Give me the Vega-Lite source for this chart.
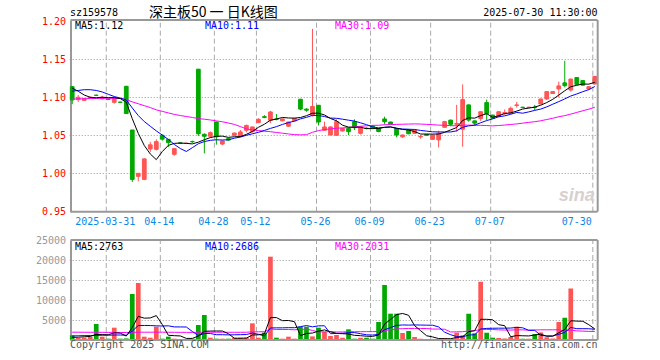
{
"$schema": "https://vega.github.io/schema/vega-lite/v6.json",
"width": 527, "height": 320,
"autosize": {"type": "none"},
"padding": {"left": 70.5, "top": 20, "right": 62.5, "bottom": 20},
"background": "white",
"config": {"view": {"stroke": null}},
"datasets": {
"k": [
{"d":"2025-03-21","o":1.114,"c":1.0965,"h":1.115,"l":1.091,"v":1170,"a5":1.112,"a10":1.108,"a30":1.0975,"b5":650,"b10":1000,"b30":1950},
{"d":"2025-03-24","o":1.097,"c":1.100,"h":1.103,"l":1.094,"v":500,"a5":1.108,"a10":1.109,"a30":1.098,"b5":700,"b10":1050,"b30":1950},
{"d":"2025-03-25","o":1.096,"c":1.098,"h":1.099,"l":1.095,"v":580,"a5":1.103,"a10":1.110,"a30":1.098,"b5":800,"b10":1100,"b30":1940},
{"d":"2025-03-26","o":1.0995,"c":1.100,"h":1.101,"l":1.099,"v":800,"a5":1.100,"a10":1.110,"a30":1.0985,"b5":900,"b10":1100,"b30":1930},
{"d":"2025-03-27","o":1.1028,"c":1.1025,"h":1.1035,"l":1.102,"v":4000,"a5":1.0994,"a10":1.109,"a30":1.0985,"b5":1410,"b10":1150,"b30":1930},
{"d":"2025-03-28","o":1.098,"c":1.100,"h":1.102,"l":1.097,"v":830,"a5":1.1001,"a10":1.107,"a30":1.0987,"b5":1342,"b10":1200,"b30":1920},
{"d":"2025-03-31","o":1.0975,"c":1.097,"h":1.098,"l":1.0965,"v":330,"a5":1.0995,"a10":1.104,"a30":1.0987,"b5":1308,"b10":1200,"b30":1900},
{"d":"2025-04-01","o":1.0934,"c":1.0987,"h":1.099,"l":1.0917,"v":3080,"a5":1.0996,"a10":1.101,"a30":1.0987,"b5":1808,"b10":1250,"b30":1900},
{"d":"2025-04-02","o":1.0937,"c":1.0934,"h":1.094,"l":1.093,"v":330,"a5":1.0983,"a10":1.099,"a30":1.0985,"b5":1714,"b10":1250,"b30":1880},
{"d":"2025-04-03","o":1.1145,"c":1.0786,"h":1.115,"l":1.078,"v":400,"a5":1.0935,"a10":1.0965,"a30":1.097,"b5":994,"b10":1202,"b30":1870},
{"d":"2025-04-07","o":1.057,"c":0.992,"h":1.057,"l":0.9886,"v":11500,"a5":1.0719,"a10":1.0860,"a30":1.094,"b5":3128,"b10":2235,"b30":1900},
{"d":"2025-04-08","o":0.996,"c":1.000,"h":1.0005,"l":0.9895,"v":14250,"a5":1.0525,"a10":1.0760,"a30":1.0915,"b5":5912,"b10":3610,"b30":1950},
{"d":"2025-04-09","o":0.992,"c":1.019,"h":1.0195,"l":0.991,"v":830,"a5":1.0366,"a10":1.0681,"a30":1.089,"b5":5462,"b10":3635,"b30":1950},
{"d":"2025-04-10","o":1.032,"c":1.0375,"h":1.0412,"l":1.028,"v":580,"a5":1.0254,"a10":1.0619,"a30":1.0865,"b5":5512,"b10":3613,"b30":1950},
{"d":"2025-04-11","o":1.0316,"c":1.0417,"h":1.0447,"l":1.030,"v":3330,"a5":1.0180,"a10":1.0558,"a30":1.0835,"b5":6098,"b10":3546,"b30":1960},
{"d":"2025-04-14","o":1.050,"c":1.045,"h":1.051,"l":1.043,"v":330,"a5":1.0286,"a10":1.0503,"a30":1.0815,"b5":3864,"b10":3496,"b30":1950},
{"d":"2025-04-15","o":1.0447,"c":1.0404,"h":1.045,"l":1.0346,"v":830,"a5":1.0367,"a10":1.0446,"a30":1.0795,"b5":1180,"b10":3546,"b30":1940},
{"d":"2025-04-16","o":1.025,"c":1.0325,"h":1.033,"l":1.023,"v":330,"a5":1.0394,"a10":1.0380,"a30":1.0775,"b5":1080,"b10":3271,"b30":1930},
{"d":"2025-04-18","o":1.040,"c":1.0395,"h":1.0405,"l":1.039,"v":250,"a5":1.0398,"a10":1.0326,"a30":1.076,"b5":1014,"b10":3263,"b30":1920},
{"d":"2025-04-21","o":1.0395,"c":1.0395,"h":1.040,"l":1.039,"v":250,"a5":1.0394,"a10":1.0287,"a30":1.0748,"b5":398,"b10":3248,"b30":1910},
{"d":"2025-04-22","o":1.0418,"c":1.0415,"h":1.043,"l":1.040,"v":330,"a5":1.0387,"a10":1.0337,"a30":1.0735,"b5":398,"b10":2131,"b30":1900},
{"d":"2025-04-23","o":1.137,"c":1.052,"h":1.137,"l":1.049,"v":3750,"a5":1.0410,"a10":1.0389,"a30":1.072,"b5":982,"b10":1081,"b30":1920},
{"d":"2025-04-24","o":1.0513,"c":1.0487,"h":1.0526,"l":1.0263,"v":6250,"a5":1.0442,"a10":1.0418,"a30":1.0712,"b5":2166,"b10":1623,"b30":1950},
{"d":"2025-04-25","o":1.0487,"c":1.0535,"h":1.055,"l":1.047,"v":580,"a5":1.0470,"a10":1.0434,"a30":1.0702,"b5":2232,"b10":1623,"b30":1950},
{"d":"2025-04-28","o":1.0675,"c":1.048,"h":1.068,"l":1.0377,"v":330,"a5":1.0487,"a10":1.0441,"a30":1.069,"b5":2248,"b10":1323,"b30":1940},
{"d":"2025-04-29","o":1.0385,"c":1.0425,"h":1.043,"l":1.037,"v":330,"a5":1.0489,"a10":1.0438,"a30":1.0678,"b5":2248,"b10":1323,"b30":1940},
{"d":"2025-04-30","o":1.0456,"c":1.0437,"h":1.046,"l":1.043,"v":330,"a5":1.0473,"a10":1.0441,"a30":1.0662,"b5":1564,"b10":1273,"b30":1930},
{"d":"2025-05-06","o":1.050,"c":1.053,"h":1.0535,"l":1.0495,"v":580,"a5":1.0481,"a10":1.0462,"a30":1.0643,"b5":430,"b10":1298,"b30":1930},
{"d":"2025-05-07","o":1.0487,"c":1.0544,"h":1.057,"l":1.048,"v":580,"a5":1.0483,"a10":1.0477,"a30":1.0615,"b5":430,"b10":1331,"b30":1930},
{"d":"2025-05-08","o":1.0566,"c":1.063,"h":1.064,"l":1.054,"v":580,"a5":1.0513,"a10":1.0500,"a30":1.0584,"b5":480,"b10":1364,"b30":1938},
{"d":"2025-05-09","o":1.055,"c":1.061,"h":1.0615,"l":1.0535,"v":4170,"a5":1.0550,"a10":1.0520,"a30":1.0572,"b5":1248,"b10":1748,"b30":2038},
{"d":"2025-05-12","o":1.0667,"c":1.071,"h":1.0725,"l":1.066,"v":580,"a5":1.0605,"a10":1.0539,"a30":1.0563,"b5":1298,"b10":1431,"b30":2041},
{"d":"2025-05-13","o":1.0745,"c":1.0735,"h":1.0765,"l":1.0725,"v":1830,"a5":1.0646,"a10":1.0564,"a30":1.0554,"b5":1548,"b10":989,"b30":2082},
{"d":"2025-05-14","o":1.0697,"c":1.0807,"h":1.082,"l":1.066,"v":20830,"a5":1.0698,"a10":1.0591,"a30":1.0548,"b5":5598,"b10":3014,"b30":2750},
{"d":"2025-05-15","o":1.0715,"c":1.071,"h":1.078,"l":1.0697,"v":580,"a5":1.0714,"a10":1.0614,"a30":1.0537,"b5":5598,"b10":3039,"b30":2636},
{"d":"2025-05-16","o":1.069,"c":1.0715,"h":1.072,"l":1.0685,"v":330,"a5":1.0735,"a10":1.0643,"a30":1.0528,"b5":4830,"b10":3039,"b30":2619},
{"d":"2025-05-19","o":1.062,"c":1.0675,"h":1.068,"l":1.061,"v":830,"a5":1.0728,"a10":1.0667,"a30":1.0518,"b5":4880,"b10":3089,"b30":2636},
{"d":"2025-05-20","o":1.069,"c":1.0723,"h":1.0725,"l":1.0685,"v":330,"a5":1.0726,"a10":1.0686,"a30":1.0509,"b5":4580,"b10":3064,"b30":2544},
{"d":"2025-05-21","o":1.0975,"c":1.0845,"h":1.0978,"l":1.083,"v":3330,"a5":1.0734,"a10":1.0716,"a30":1.0506,"b5":1080,"b10":3339,"b30":2644},
{"d":"2025-05-22","o":1.0845,"c":1.083,"h":1.0855,"l":1.081,"v":3330,"a5":1.0758,"a10":1.0736,"a30":1.0508,"b5":1630,"b10":3614,"b30":2742},
{"d":"2025-05-23","o":1.0765,"c":1.088,"h":1.190,"l":1.0746,"v":900,"a5":1.0791,"a10":1.0763,"a30":1.0540,"b5":1744,"b10":3287,"b30":2389},
{"d":"2025-05-26","o":1.0895,"c":1.0675,"h":1.0895,"l":1.063,"v":3080,"a5":1.0791,"a10":1.0760,"a30":1.0562,"b5":2194,"b10":3537,"b30":2016},
{"d":"2025-05-27","o":1.0566,"c":1.061,"h":1.068,"l":1.056,"v":2000,"a5":1.0768,"a10":1.0747,"a30":1.0576,"b5":2528,"b10":3554,"b30":2055},
{"d":"2025-05-28","o":1.0504,"c":1.061,"h":1.0615,"l":1.050,"v":1000,"a5":1.0721,"a10":1.0727,"a30":1.0584,"b5":2062,"b10":1571,"b30":2069},
{"d":"2025-05-29","o":1.050,"c":1.068,"h":1.071,"l":1.0495,"v":1250,"a5":1.0691,"a10":1.0724,"a30":1.0593,"b5":1646,"b10":1638,"b30":2000},
{"d":"2025-05-30","o":1.0557,"c":1.059,"h":1.0595,"l":1.055,"v":580,"a5":1.0633,"a10":1.0712,"a30":1.0598,"b5":1582,"b10":1663,"b30":2008},
{"d":"2025-06-03","o":1.059,"c":1.0548,"h":1.060,"l":1.0504,"v":2670,"a5":1.0608,"a10":1.0699,"a30":1.0602,"b5":1500,"b10":1847,"b30":2070},
{"d":"2025-06-04","o":1.068,"c":1.060,"h":1.071,"l":1.057,"v":330,"a5":1.0606,"a10":1.0687,"a30":1.0612,"b5":1166,"b10":1847,"b30":2070},
{"d":"2025-06-05","o":1.0526,"c":1.0614,"h":1.062,"l":1.051,"v":580,"a5":1.0606,"a10":1.0664,"a30":1.0619,"b5":1082,"b10":1572,"b30":2081},
{"d":"2025-06-06","o":1.0593,"c":1.059,"h":1.0605,"l":1.058,"v":580,"a5":1.0588,"a10":1.0640,"a30":1.0625,"b5":948,"b10":1297,"b30":2092},
{"d":"2025-06-09","o":1.0623,"c":1.059,"h":1.063,"l":1.0585,"v":330,"a5":1.0588,"a10":1.0611,"a30":1.0631,"b5":898,"b10":1240,"b30":2092},
{"d":"2025-06-10","o":1.059,"c":1.055,"h":1.0595,"l":1.054,"v":4500,"a5":1.0589,"a10":1.0598,"a30":1.0632,"b5":1264,"b10":1382,"b30":2117},
{"d":"2025-06-11","o":1.0715,"c":1.068,"h":1.0745,"l":1.0645,"v":13750,"a5":1.0605,"a10":1.0605,"a30":1.0639,"b5":3948,"b10":2557,"b30":2367},
{"d":"2025-06-12","o":1.0675,"c":1.0645,"h":1.068,"l":1.064,"v":6580,"a5":1.0611,"a10":1.0609,"a30":1.0642,"b5":5148,"b10":3115,"b30":2567},
{"d":"2025-06-13","o":1.059,"c":1.0504,"h":1.0595,"l":1.0474,"v":6580,"a5":1.0594,"a10":1.0591,"a30":1.0643,"b5":6348,"b10":3648,"b30":2775},
{"d":"2025-06-16","o":1.048,"c":1.0504,"h":1.051,"l":1.0465,"v":1750,"a5":1.0577,"a10":1.0583,"a30":1.0646,"b5":6632,"b10":3765,"b30":2822},
{"d":"2025-06-17","o":1.057,"c":1.052,"h":1.0575,"l":1.0515,"v":2250,"a5":1.0571,"a10":1.0580,"a30":1.0648,"b5":6182,"b10":3723,"b30":2886},
{"d":"2025-06-18","o":1.0526,"c":1.057,"h":1.0575,"l":1.052,"v":750,"a5":1.0549,"a10":1.0577,"a30":1.0650,"b5":3582,"b10":3765,"b30":2892},
{"d":"2025-06-19","o":1.0478,"c":1.0485,"h":1.0505,"l":1.0455,"v":330,"a5":1.0517,"a10":1.0564,"a30":1.0648,"b5":2332,"b10":3740,"b30":2884},
{"d":"2025-06-20","o":1.0513,"c":1.050,"h":1.0515,"l":1.0495,"v":250,"a5":1.0516,"a10":1.0555,"a30":1.0644,"b5":1066,"b10":3707,"b30":2873},
{"d":"2025-06-23","o":1.0447,"c":1.0504,"h":1.051,"l":1.044,"v":250,"a5":1.0516,"a10":1.0546,"a30":1.0640,"b5":766,"b10":3699,"b30":2742},
{"d":"2025-06-24","o":1.044,"c":1.0526,"h":1.056,"l":1.034,"v":250,"a5":1.0517,"a10":1.0544,"a30":1.0634,"b5":366,"b10":3274,"b30":2731},
{"d":"2025-06-25","o":1.0605,"c":1.068,"h":1.069,"l":1.060,"v":500,"a5":1.0539,"a10":1.0544,"a30":1.0632,"b5":316,"b10":1949,"b30":2687},
{"d":"2025-06-26","o":1.070,"c":1.0645,"h":1.0705,"l":1.062,"v":330,"a5":1.0571,"a10":1.0544,"a30":1.0627,"b5":316,"b10":1324,"b30":2003},
{"d":"2025-06-27","o":1.0645,"c":1.0655,"h":1.090,"l":1.0548,"v":1830,"a5":1.0602,"a10":1.0559,"a30":1.0625,"b5":632,"b10":849,"b30":2045},
{"d":"2025-06-30","o":1.058,"c":1.097,"h":1.117,"l":1.035,"v":1200,"a5":1.0695,"a10":1.0606,"a30":1.0633,"b5":822,"b10":794,"b30":2074},
{"d":"2025-07-01","o":1.090,"c":1.070,"h":1.0905,"l":1.068,"v":6580,"a5":1.0730,"a10":1.0624,"a30":1.0634,"b5":2088,"b10":1227,"b30":2266},
{"d":"2025-07-02","o":1.069,"c":1.066,"h":1.0695,"l":1.0623,"v":1670,"a5":1.0726,"a10":1.0633,"a30":1.0632,"b5":2322,"b10":1319,"b30":2310},
{"d":"2025-07-03","o":1.072,"c":1.081,"h":1.0815,"l":1.069,"v":14580,"a5":1.0759,"a10":1.0665,"a30":1.0631,"b5":5172,"b10":2744,"b30":2685},
{"d":"2025-07-04","o":1.093,"c":1.0785,"h":1.097,"l":1.070,"v":1830,"a5":1.0785,"a10":1.0694,"a30":1.0629,"b5":5172,"b10":2902,"b30":2635},
{"d":"2025-07-07","o":1.0766,"c":1.0724,"h":1.077,"l":1.072,"v":580,"a5":1.0736,"a10":1.0716,"a30":1.0624,"b5":5048,"b10":2935,"b30":2625},
{"d":"2025-07-08","o":1.0746,"c":1.081,"h":1.0815,"l":1.074,"v":500,"a5":1.0758,"a10":1.0744,"a30":1.0629,"b5":3832,"b10":2960,"b30":2539},
{"d":"2025-07-09","o":1.0785,"c":1.080,"h":1.084,"l":1.077,"v":400,"a5":1.0786,"a10":1.0756,"a30":1.0635,"b5":3578,"b10":2950,"b30":2485},
{"d":"2025-07-10","o":1.079,"c":1.0855,"h":1.0877,"l":1.0785,"v":750,"a5":1.0795,"a10":1.0777,"a30":1.0643,"b5":812,"b10":2992,"b30":2477},
{"d":"2025-07-11","o":1.0892,"c":1.090,"h":1.0939,"l":1.0864,"v":3330,"a5":1.0818,"a10":1.0801,"a30":1.0650,"b5":1112,"b10":3142,"b30":2546},
{"d":"2025-07-14","o":1.087,"c":1.0865,"h":1.0875,"l":1.086,"v":300,"a5":1.0846,"a10":1.0791,"a30":1.0660,"b5":1056,"b10":3052,"b30":2537},
{"d":"2025-07-15","o":1.0865,"c":1.087,"h":1.0875,"l":1.086,"v":300,"a5":1.0858,"a10":1.0808,"a30":1.0670,"b5":1016,"b10":2424,"b30":2458},
{"d":"2025-07-16","o":1.087,"c":1.0865,"h":1.090,"l":1.083,"v":1500,"a5":1.0871,"a10":1.0828,"a30":1.0679,"b5":1236,"b10":2407,"b30":2497},
{"d":"2025-07-17","o":1.0912,"c":1.0978,"h":1.098,"l":1.091,"v":1900,"a5":1.0896,"a10":1.0845,"a30":1.0691,"b5":1466,"b10":1139,"b30":2541},
{"d":"2025-07-18","o":1.0978,"c":1.1075,"h":1.108,"l":1.0965,"v":700,"a5":1.0931,"a10":1.0874,"a30":1.0708,"b5":940,"b10":1026,"b30":2545},
{"d":"2025-07-21","o":1.105,"c":1.1075,"h":1.108,"l":1.1045,"v":400,"a5":1.0973,"a10":1.0909,"a30":1.0724,"b5":960,"b10":1008,"b30":2547},
{"d":"2025-07-22","o":1.111,"c":1.115,"h":1.1206,"l":1.100,"v":4500,"a5":1.1029,"a10":1.0943,"a30":1.0744,"b5":1800,"b10":1408,"b30":2547},
{"d":"2025-07-23","o":1.119,"c":1.1153,"h":1.148,"l":1.113,"v":5545,"a5":1.1086,"a10":1.0979,"a30":1.0759,"b5":2609,"b10":1923,"b30":2274},
{"d":"2025-07-24","o":1.1096,"c":1.124,"h":1.1245,"l":1.1075,"v":12900,"a5":1.1139,"a10":1.1017,"a30":1.0779,"b5":4809,"b10":3138,"b30":2485},
{"d":"2025-07-25","o":1.126,"c":1.117,"h":1.1265,"l":1.1165,"v":250,"a5":1.1158,"a10":1.1044,"a30":1.0801,"b5":4719,"b10":2830,"b30":2274},
{"d":"2025-07-28","o":1.122,"c":1.116,"h":1.1225,"l":1.1155,"v":250,"a5":1.1175,"a10":1.1074,"a30":1.0823,"b5":4689,"b10":2825,"b30":2224},
{"d":"2025-07-29","o":1.111,"c":1.114,"h":1.1145,"l":1.1105,"v":200,"a5":1.1173,"a10":1.1101,"a30":1.0844,"b5":3829,"b10":2815,"b30":2155},
{"d":"2025-07-30","o":1.1175,"c":1.1275,"h":1.128,"l":1.117,"v":215,"a5":1.1197,"a10":1.1142,"a30":1.0868,"b5":2763,"b10":2686,"b30":2137}
],
"g": [
{"d":"2025-03-31","t":"2025-03-31"},{"d":"2025-04-14","t":"04-14"},{"d":"2025-04-28","t":"04-28"},
{"d":"2025-05-12","t":"05-12"},{"d":"2025-05-26","t":"05-26"},{"d":"2025-06-09","t":"06-09"},
{"d":"2025-06-23","t":"06-23"},{"d":"2025-07-07","t":"07-07"},{"d":"2025-07-30","t":"07-30"}
]
},
"layer": [
{
"layer": [
{"data": {"name": "g"},
 "mark": {"type": "rule", "stroke": "#aaaaaa", "strokeWidth": 1, "strokeDash": [5, 3]},
 "encoding": {
  "x": {"field": "d", "type": "ordinal", "bandPosition": 0.17, "axis": null, "scale": {"type": "band", "range": [-1.3, 527.3], "paddingInner": 0, "paddingOuter": 0}},
  "y": {"datum": 0.9495, "type": "quantitative"},
  "y2": {"datum": 1.2017}
 }},
{"data": {"name": "k"},
 "mark": {"type": "rule", "strokeWidth": 1},
 "encoding": {
  "x": {"field": "d", "type": "ordinal", "axis": null},
  "y": {"field": "l", "type": "quantitative",
        "scale": {"domain": [0.9495, 1.2017], "range": [191.7, 0], "zero": false, "nice": false},
        "axis": {"orient": "left", "values": [0.95, 1.0, 1.05, 1.1, 1.15, 1.2], "format": ".2f", "title": null,
                 "labelColor": "#ff0000", "labelFont": "DejaVu Sans Mono", "labelFontSize": 10, "labelPadding": 5,
                 "ticks": false, "tickSize": 0, "domainColor": "#999999", "domainWidth": 2,
                 "grid": true, "gridDash": [1, 2], "gridWidth": 1,
                 "gridColor": {"condition": {"test": "datum.value < 0.96 || datum.value > 1.19", "value": "transparent"}, "value": "#999999"}}},
  "y2": {"field": "h"},
  "color": {"condition": {"test": "datum.c >= datum.o", "value": "#ff5555"}, "value": "#00a800"}
 }},
{"data": {"name": "k"},
 "mark": {"type": "bar", "width": {"band": 0.62}, "strokeWidth": 1},
 "encoding": {
  "x": {"field": "d", "type": "ordinal", "axis": null},
  "y": {"field": "o", "type": "quantitative"},
  "y2": {"field": "c"},
  "color": {"condition": {"test": "datum.c >= datum.o", "value": "#ff5555"}, "value": "#00a800"},
  "stroke": {"condition": {"test": "datum.c >= datum.o", "value": "#ff5555"}, "value": "#00a800"}
 }},
{"data": {"name": "k"},
 "mark": {"type": "line", "color": "#ff00ff", "strokeWidth": 1},
 "encoding": {"x": {"field": "d", "type": "ordinal", "axis": null}, "y": {"field": "a30", "type": "quantitative"}}},
{"data": {"name": "k"},
 "mark": {"type": "line", "color": "#0000ff", "strokeWidth": 1},
 "encoding": {"x": {"field": "d", "type": "ordinal", "axis": null}, "y": {"field": "a10", "type": "quantitative"}}},
{"data": {"name": "k"},
 "mark": {"type": "line", "color": "#000000", "strokeWidth": 1},
 "encoding": {"x": {"field": "d", "type": "ordinal", "axis": null}, "y": {"field": "a5", "type": "quantitative"}}},
{"data": {"values": [{}]},
 "mark": {"type": "rule", "stroke": "#999999", "strokeWidth": 2},
 "encoding": {"y": {"datum": 1.2017, "type": "quantitative"}}},
{"data": {"values": [{}]},
 "mark": {"type": "rule", "stroke": "#999999", "strokeWidth": 2},
 "encoding": {"y": {"datum": 0.9495, "type": "quantitative"}}},
{"data": {"values": [{}]},
 "mark": {"type": "rule", "stroke": "#999999", "strokeWidth": 2},
 "encoding": {
  "x": {"datum": "2025-07-30", "type": "ordinal", "bandPosition": 0.98, "axis": null},
  "y": {"datum": 0.9495, "type": "quantitative"},
  "y2": {"datum": 1.2017}
 }},
{"data": {"name": "g"},
 "transform": [{"filter": "datum.t != '07-30'"}],
 "mark": {"type": "text", "align": "center", "baseline": "middle", "font": "DejaVu Sans Mono", "fontSize": 10, "color": "#0a88e6"},
 "encoding": {
  "x": {"field": "d", "type": "ordinal", "bandPosition": 0, "axis": null},
  "y": {"datum": 0.9364, "type": "quantitative"},
  "text": {"field": "t"}
 }},
{"data": {"values": [{"t": "07-30"}]},
 "mark": {"type": "text", "align": "right", "baseline": "middle", "font": "DejaVu Sans Mono", "fontSize": 10, "color": "#0a88e6"},
 "encoding": {
  "x": {"datum": "2025-07-30", "type": "ordinal", "bandPosition": 0, "axis": null},
  "y": {"datum": 0.9364, "type": "quantitative"},
  "text": {"field": "t"}
 }},
{"data": {"values": [{"t": "sz159578"}]},
 "mark": {"type": "text", "align": "left", "baseline": "middle", "font": "DejaVu Sans Mono", "fontSize": 10, "color": "#000000"},
 "encoding": {
  "x": {"datum": "2025-03-21", "type": "ordinal", "bandPosition": 0.13, "axis": null},
  "y": {"datum": 1.2115, "type": "quantitative"},
  "text": {"field": "t"}
 }},
{"data": {"values": [{"t": "深主板50 一 日K线图"}]},
 "mark": {"type": "text", "align": "center", "baseline": "middle", "font": "Noto Sans CJK SC", "fontSize": 14, "color": "#000000"},
 "encoding": {
  "x": {"datum": "2025-04-28", "type": "ordinal", "bandPosition": 0, "axis": null},
  "y": {"datum": 1.2115, "type": "quantitative"},
  "text": {"field": "t"}
 }},
{"data": {"values": [{"t": "2025-07-30 11:30:00"}]},
 "mark": {"type": "text", "align": "right", "baseline": "middle", "font": "DejaVu Sans Mono", "fontSize": 10, "color": "#000000"},
 "encoding": {
  "x": {"datum": "2025-07-30", "type": "ordinal", "bandPosition": 0.96, "axis": null},
  "y": {"datum": 1.2115, "type": "quantitative"},
  "text": {"field": "t"}
 }},
{"data": {"values": [{"t": "MA5:1.12"}]},
 "mark": {"type": "text", "align": "left", "baseline": "middle", "font": "DejaVu Sans Mono", "fontSize": 10, "color": "#000000"},
 "encoding": {
  "x": {"datum": "2025-03-21", "type": "ordinal", "bandPosition": 0.97, "axis": null},
  "y": {"datum": 1.1938, "type": "quantitative"},
  "text": {"field": "t"}
 }},
{"data": {"values": [{"t": "MA10:1.11"}]},
 "mark": {"type": "text", "align": "left", "baseline": "middle", "font": "DejaVu Sans Mono", "fontSize": 10, "color": "#0000ff"},
 "encoding": {
  "x": {"datum": "2025-04-24", "type": "ordinal", "bandPosition": 0.6, "axis": null},
  "y": {"datum": 1.1938, "type": "quantitative"},
  "text": {"field": "t"}
 }},
{"data": {"values": [{"t": "MA30:1.09"}]},
 "mark": {"type": "text", "align": "left", "baseline": "middle", "font": "DejaVu Sans Mono", "fontSize": 10, "color": "#ff00ff"},
 "encoding": {
  "x": {"datum": "2025-05-29", "type": "ordinal", "bandPosition": 0.25, "axis": null},
  "y": {"datum": 1.1938, "type": "quantitative"},
  "text": {"field": "t"}
 }},
{"data": {"values": [{"t": "sina"}]},
 "mark": {"type": "text", "align": "right", "baseline": "middle", "font": "Liberation Sans", "fontSize": 18, "fontStyle": "italic", "fontWeight": "bold", "color": "#d8d0d0"},
 "encoding": {
  "x": {"datum": "2025-07-30", "type": "ordinal", "bandPosition": 0.5, "axis": null},
  "y": {"datum": 0.9702, "type": "quantitative"},
  "text": {"field": "t"}
 }}
]
},
{
"layer": [
{"data": {"name": "g"},
 "mark": {"type": "rule", "stroke": "#aaaaaa", "strokeWidth": 1, "strokeDash": [5, 3]},
 "encoding": {
  "x": {"field": "d", "type": "ordinal", "bandPosition": 0.17, "axis": null},
  "y": {"datum": 0, "type": "quantitative"},
  "y2": {"datum": 25000}
 }},
{"data": {"name": "k"},
 "mark": {"type": "bar", "width": {"band": 0.78}},
 "encoding": {
  "x": {"field": "d", "type": "ordinal", "axis": null},
  "y": {"field": "v", "type": "quantitative",
        "scale": {"domain": [0, 25000], "range": [320, 220], "nice": false},
        "axis": {"orient": "left", "values": [5000, 10000, 15000, 20000, 25000], "format": "d", "title": null,
                 "labelColor": "#999999", "labelFont": "DejaVu Sans Mono", "labelFontSize": 10, "labelPadding": 5,
                 "ticks": false, "tickSize": 0, "domainColor": "#999999", "domainWidth": 2,
                 "grid": true, "gridDash": [1, 2], "gridWidth": 1,
                 "gridColor": {"condition": {"test": "datum.value > 24000", "value": "transparent"}, "value": "#999999"}}},
  "color": {"condition": {"test": "datum.c >= datum.o", "value": "#ff5555"}, "value": "#00a800"}
 }},
{"data": {"name": "k"},
 "mark": {"type": "line", "color": "#ff00ff", "strokeWidth": 1},
 "encoding": {"x": {"field": "d", "type": "ordinal", "axis": null}, "y": {"field": "b30", "type": "quantitative"}}},
{"data": {"name": "k"},
 "mark": {"type": "line", "color": "#0000ff", "strokeWidth": 1},
 "encoding": {"x": {"field": "d", "type": "ordinal", "axis": null}, "y": {"field": "b10", "type": "quantitative"}}},
{"data": {"name": "k"},
 "mark": {"type": "line", "color": "#000000", "strokeWidth": 1},
 "encoding": {"x": {"field": "d", "type": "ordinal", "axis": null}, "y": {"field": "b5", "type": "quantitative"}}},
{"data": {"values": [{}]},
 "mark": {"type": "rule", "stroke": "#999999", "strokeWidth": 2},
 "encoding": {"y": {"datum": 25000, "type": "quantitative"}}},
{"data": {"values": [{}]},
 "mark": {"type": "rule", "stroke": "#999999", "strokeWidth": 2},
 "encoding": {"y": {"datum": 0, "type": "quantitative"}}},
{"data": {"values": [{}]},
 "mark": {"type": "rule", "stroke": "#999999", "strokeWidth": 2},
 "encoding": {
  "x": {"datum": "2025-07-30", "type": "ordinal", "bandPosition": 0.98, "axis": null},
  "y": {"datum": 0, "type": "quantitative"},
  "y2": {"datum": 25000}
 }},
{"data": {"values": [{"t": "MA5:2763"}]},
 "mark": {"type": "text", "align": "left", "baseline": "middle", "font": "DejaVu Sans Mono", "fontSize": 10, "color": "#000000"},
 "encoding": {
  "x": {"datum": "2025-03-21", "type": "ordinal", "bandPosition": 0.97, "axis": null},
  "y": {"datum": 23300, "type": "quantitative"},
  "text": {"field": "t"}
 }},
{"data": {"values": [{"t": "MA10:2686"}]},
 "mark": {"type": "text", "align": "left", "baseline": "middle", "font": "DejaVu Sans Mono", "fontSize": 10, "color": "#0000ff"},
 "encoding": {
  "x": {"datum": "2025-04-24", "type": "ordinal", "bandPosition": 0.6, "axis": null},
  "y": {"datum": 23300, "type": "quantitative"},
  "text": {"field": "t"}
 }},
{"data": {"values": [{"t": "MA30:2031"}]},
 "mark": {"type": "text", "align": "left", "baseline": "middle", "font": "DejaVu Sans Mono", "fontSize": 10, "color": "#ff00ff"},
 "encoding": {
  "x": {"datum": "2025-05-29", "type": "ordinal", "bandPosition": 0.25, "axis": null},
  "y": {"datum": 23300, "type": "quantitative"},
  "text": {"field": "t"}
 }},
{"data": {"values": [{"t": "Copyright 2025 SINA.COM"}]},
 "mark": {"type": "text", "align": "left", "baseline": "middle", "font": "DejaVu Sans Mono", "fontSize": 10, "color": "#555555"},
 "encoding": {
  "x": {"datum": "2025-03-21", "type": "ordinal", "bandPosition": 0.13, "axis": null},
  "y": {"datum": -1250, "type": "quantitative"},
  "text": {"field": "t"}
 }},
{"data": {"values": [{"t": "http://finance.sina.com.cn"}]},
 "mark": {"type": "text", "align": "right", "baseline": "middle", "font": "DejaVu Sans Mono", "fontSize": 10, "color": "#555555"},
 "encoding": {
  "x": {"datum": "2025-07-30", "type": "ordinal", "bandPosition": 0.96, "axis": null},
  "y": {"datum": -1250, "type": "quantitative"},
  "text": {"field": "t"}
 }}
]
}
],
"resolve": {"scale": {"y": "independent"}, "axis": {"y": "independent"}}
}
